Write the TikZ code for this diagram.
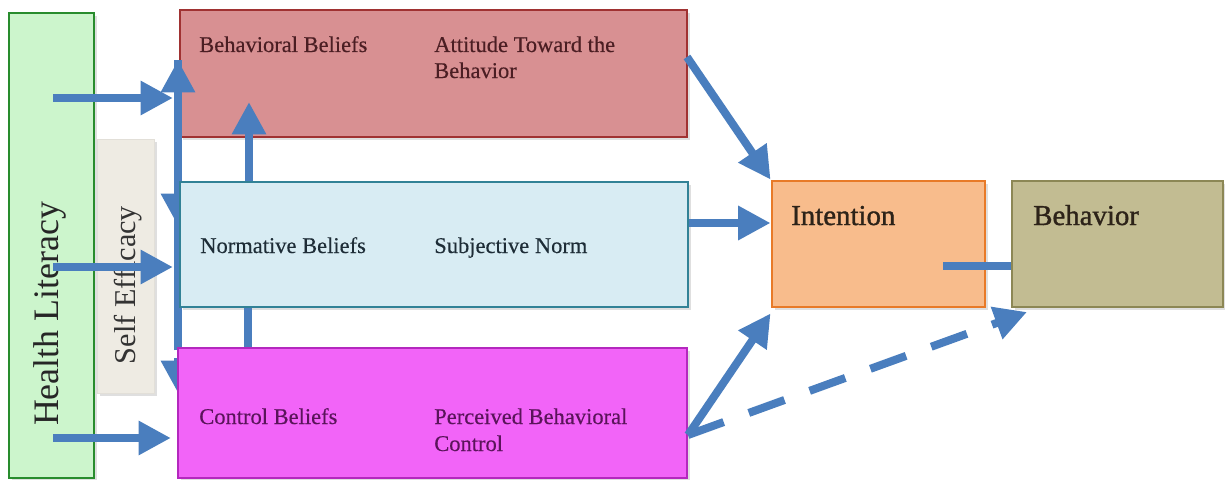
\documentclass[tikz,border=0pt]{standalone}
\usepackage{fontspec}
\setmainfont{Liberation Serif}
\newfontface\ibfont{Liberation Serif}[FakeBold=1.2]
\newfontface\lblfont{Liberation Serif}[FakeBold=0.35]
\usetikzlibrary{arrows.meta,shadows,calc}
\definecolor{arr}{RGB}{74,126,190}
\definecolor{hlfill}{RGB}{204,245,204}
\definecolor{hldraw}{RGB}{40,140,45}
\definecolor{sefill}{RGB}{238,235,227}
\definecolor{behfill}{RGB}{216,144,146}
\definecolor{behdraw}{RGB}{160,50,50}
\definecolor{normfill}{RGB}{216,236,243}
\definecolor{normdraw}{RGB}{50,130,150}
\definecolor{ctrlfill}{RGB}{242,100,248}
\definecolor{ctrldraw}{RGB}{180,40,190}
\definecolor{intfill}{RGB}{248,188,140}
\definecolor{intdraw}{RGB}{232,122,40}
\definecolor{bhvfill}{RGB}{194,188,146}
\definecolor{bhvdraw}{RGB}{140,135,85}
\definecolor{behtext}{RGB}{75,30,35}
\definecolor{normtext}{RGB}{30,45,55}
\definecolor{ctrltext}{RGB}{90,20,90}
\definecolor{ibtext}{RGB}{45,35,25}
\begin{document}
\begin{tikzpicture}[x=0.025cm,y=-0.025cm,
  box/.style={line width=2pt, inner sep=0pt,
    drop shadow={opacity=0.25, shadow xshift=0.07cm, shadow yshift=-0.07cm}},
  blue arrow/.style={draw=arr, line width=5.7pt, -{Triangle[length=23pt,width=23pt]}},
  plain line/.style={draw=arr, line width=5.7pt},
  lbl/.style={anchor=base west, inner sep=0pt, font=\lblfont\fontsize{16}{18.5}\selectfont},
  big lbl/.style={anchor=base west, inner sep=0pt, font=\ibfont\fontsize{20.5}{24}\selectfont, text=ibtext},
]
\useasboundingbox[fill=white] (0,0) rectangle (1225,480);

% left boxes
\node[box, fill=hlfill, draw=hldraw, minimum width=2.125cm, minimum height=11.625cm] (hl) at (51.5,245.5) {};
\node[rotate=90, inner sep=0pt, font=\fontsize{25.5}{28}\selectfont, text=black!85] (hlt) at (50,314) {Health Literacy};
\node[box, fill=sefill, draw=sefill!95!black, line width=0.5pt, minimum width=1.425cm, minimum height=6.35cm] (se) at (125.5,266) {};
\node[rotate=90, inner sep=0pt, font=\fontsize{21.5}{24}\selectfont, text=black!80] (set) at (128,285) {Self Efficacy};

% behavioral box
\node[box, fill=behfill, draw=behdraw, minimum width=12.675cm, minimum height=3.175cm] (beh) at (433.5,73.5) {};
\node[lbl, text=behtext] (bb) at (199,52) {Behavioral Beliefs};
\node[lbl, text=behtext] (at1) at (434,52) {Attitude Toward the};
\node[lbl, text=behtext] (at2) at (434,78) {Behavior};

% vertical self-efficacy line (behind the normative/control boxes)
\coordinate (vtop) at (178,60);
\coordinate (vn0) at (178,190);
\coordinate (vn1) at (178,226);
\coordinate (vc0) at (178,358);
\coordinate (vc1) at (178,393);
\coordinate (vbot) at (178,350);
\draw[plain line] (vbot) -- (vtop);
\draw[blue arrow] (vn0) -- (vn1);
\draw[blue arrow] (vc0) -- (vc1);
\draw[blue arrow] (vbot) -- (vtop);

% normative and control boxes
\node[box, fill=normfill, draw=normdraw, minimum width=12.7cm, minimum height=3.125cm] (norm) at (434,244.5) {};
\node[lbl, text=normtext] (nb) at (200,253) {Normative Beliefs};
\node[lbl, text=normtext] (sn) at (434,253) {Subjective Norm};
\node[box, fill=ctrlfill, draw=ctrldraw, minimum width=12.725cm, minimum height=3.25cm] (ctrl) at (432.5,413) {};
\node[lbl, text=ctrltext] (cb) at (199,424) {Control Beliefs};
\node[lbl, text=ctrltext] (pb1) at (434,424) {Perceived Behavioral};
\node[lbl, text=ctrltext] (pb2) at (434,451) {Control};

% intention and behavior
\node[box, fill=intfill, draw=intdraw, minimum width=5.325cm, minimum height=3.15cm] (int) at (878.5,244) {};
\node[big lbl] (intt) at (791,225) {Intention};
\node[box, fill=bhvfill, draw=bhvdraw, minimum width=5.275cm, minimum height=3.15cm] (bhv) at (1117.5,244) {};
\node[big lbl] (bhvt) at (1033,225) {Behavior};

% health literacy arrows
\coordinate (s1) at (53,98);
\coordinate (s2) at (53,267);
\coordinate (s3) at (53,438);
\draw[blue arrow, shorten >=4pt] (s1) -- (beh.west |- s1);
\draw[blue arrow, shorten >=4pt] (s2) -- (norm.west |- s2);
\draw[blue arrow, shorten >=4pt] (s3) -- (ctrl.west |- s3);

% normative -> behavioral, control -> normative
\coordinate (nbt) at (249,102);
\draw[blue arrow] (nbt |- norm.north) -- (nbt);
\coordinate (cnx) at (248,330);
\draw[plain line] (cnx |- ctrl.north) -- (cnx |- norm.south);

% to intention
\coordinate (bo) at (687,57);
\coordinate (ni) at (700,223);
\coordinate (co) at (688,435);
\coordinate (bt) at (1027,312);
\draw[blue arrow] (bo) -- (int.north west);
\draw[blue arrow] (norm.east |- ni) -- (int.west |- ni);
\draw[blue arrow] (co) -- ($(int.south west)+(0,5)$);
\draw[blue arrow, dash pattern=on 27pt off 19pt] (co) -- (bt);

% intention - behavior
\coordinate (ib) at (943,266);
\draw[plain line] (ib) -- (bhv.west |- ib);
\end{tikzpicture}
\end{document}
